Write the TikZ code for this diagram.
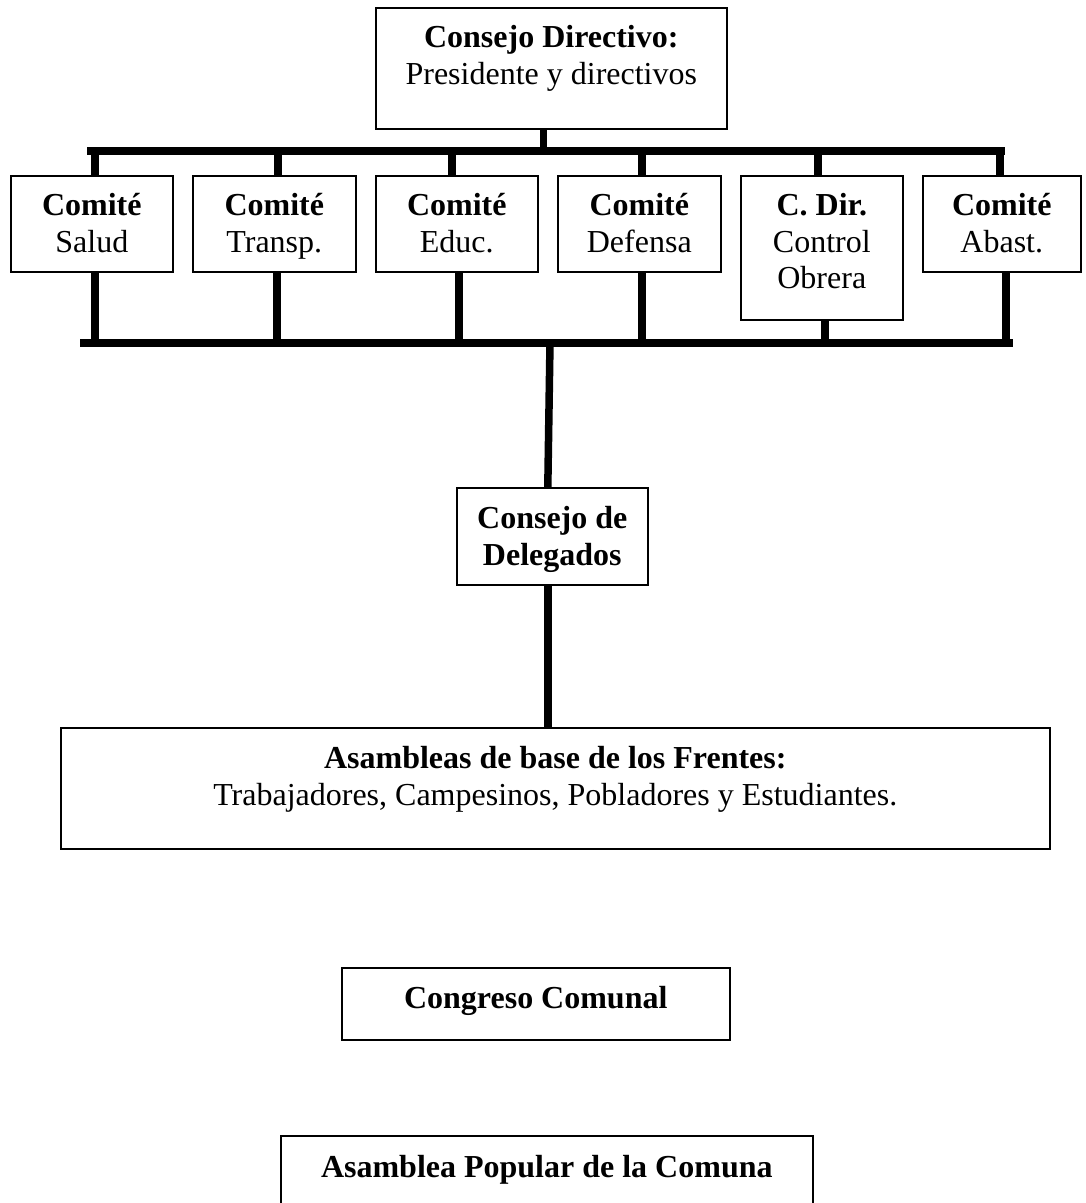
\documentclass[tikz,border=0pt]{standalone}
\usepackage{fontspec}
\setmainfont{Liberation Serif}
\begin{document}
\begin{tikzpicture}[x=1pt, y=-1pt,
  box/.style={draw, line width=1.6pt, inner sep=0pt, anchor=north west},
  bar/.style={line width=8pt},
  stem/.style={line width=7.5pt},
  txt/.style={anchor=base, inner sep=0pt, font=\fontsize{32}{37}\selectfont},
  hd/.style={anchor=base, inner sep=0pt, font=\fontsize{32}{37}\selectfont\bfseries},
]
\clip (0,0) rectangle (1086,1203);
\fill[white] (0,0) rectangle (1086,1203);

% boxes
\node[box, minimum width=351pt, minimum height=121pt] (cd) at (375,7) {};
\node[box, minimum width=162pt, minimum height=96pt] (c1) at (10,175) {};
\node[box, minimum width=163pt, minimum height=96pt] (c2) at (192,175) {};
\node[box, minimum width=162pt, minimum height=96pt] (c3) at (375,175) {};
\node[box, minimum width=163pt, minimum height=96pt] (c4) at (557,175) {};
\node[box, minimum width=162pt, minimum height=144pt] (c5) at (740,175) {};
\node[box, minimum width=158pt, minimum height=96pt] (c6) at (922,175) {};
\node[box, minimum width=191pt, minimum height=97pt] (del) at (456,487) {};
\node[box, minimum width=989pt, minimum height=121pt] (asb) at (60,727) {};
\node[box, minimum width=388pt, minimum height=72pt] (cong) at (341,967) {};
\node[box, minimum width=532pt, minimum height=120pt] (apc) at (280,1135) {};

% texts
\node[hd]  (cd1) at ([yshift=-40pt]cd.north) {Consejo Directivo:};
\node[txt] (cd2) at ([yshift=-77pt]cd.north) {Presidente y directivos};

\foreach \n/\a/\b in {c1/Comité/Salud, c2/Comité/Transp., c3/Comité/Educ.,
                      c4/Comité/Defensa, c5/C. Dir./Control, c6/Comité/Abast.}{
  \node[hd]  (\n-t1) at ([yshift=-40pt]\n.north) {\a};
  \node[txt] (\n-t2) at ([yshift=-77pt]\n.north) {\b};
}
\node[txt] (c5-t3) at ([yshift=-113pt]c5.north) {Obrera};

\node[hd] (del1) at ([yshift=-41pt]del.north) {Consejo de};
\node[hd] (del2) at ([yshift=-78pt]del.north) {Delegados};

\node[hd]  (asb1) at ([yshift=-41pt]asb.north) {Asambleas de base de los Frentes:};
\node[txt] (asb2) at ([yshift=-78pt]asb.north) {Trabajadores, Campesinos, Pobladores y Estudiantes.};

\node[hd] (cong1) at ([yshift=-41pt]cong.north) {Congreso Comunal};
\node[hd] (apc1) at ([yshift=-42pt]apc.north) {Asamblea Popular de la Comuna};

% upper bus
\coordinate (tl) at (87,151);
\coordinate (tr) at (1005,151);
\draw[bar] (tl) -- (tr);
\draw[stem] ([xshift=-8pt]cd.south) -- ([xshift=-8pt]cd.south |- tl);
\foreach \n/\dx in {c1/3, c2/3.5, c3/-5, c4/2.5, c5/-4, c6/-2}{
  \draw[stem] ([xshift=\dx pt]\n.north) -- ([xshift=\dx pt]\n.north |- tl);
}

% lower bus
\coordinate (bl) at (80,343);
\coordinate (br) at (1013,343);
\coordinate (bm) at (550,343);
\draw[bar] (bl) -- (br);
\foreach \n/\dx in {c1/3, c2/2.5, c3/2, c4/2.5, c5/3, c6/4}{
  \draw[stem] ([xshift=\dx pt]\n.south) -- ([xshift=\dx pt]\n.south |- bl);
}

% trunk down to the assemblies
\draw[stem] (bm) -- ([xshift=-4.5pt]del.north);
\draw[stem] ([xshift=-4.5pt]del.south) -- ([xshift=-4.5pt]del.south |- asb.north);
\end{tikzpicture}
\end{document}
